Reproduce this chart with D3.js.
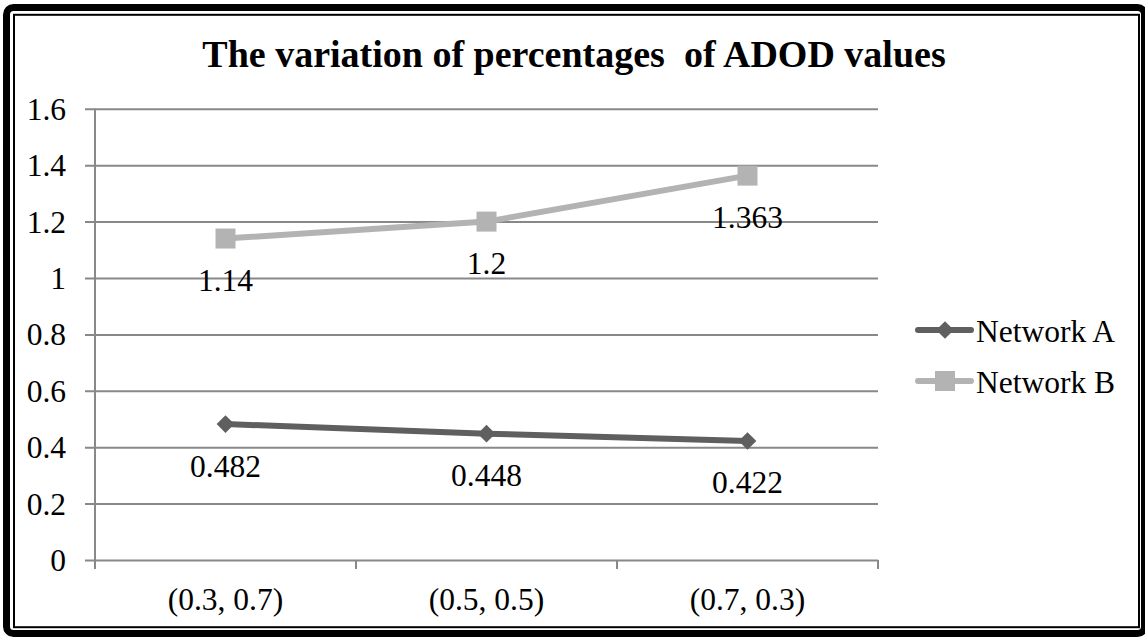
<!DOCTYPE html>
<html>
<head>
<meta charset="utf-8">
<script src="https://cdn.jsdelivr.net/npm/d3@7"></script>
<style>
  html, body { margin: 0; padding: 0; background: #fff; }
  svg { display: block; }
  text { font-family: "Liberation Serif", "Times New Roman", serif; }
</style>
</head>
<body>
<svg id="chart" width="1145" height="637"></svg>
<script>
// Chart data
const title = "The variation of percentages  of ADOD values";
const categories = ["(0.3, 0.7)", "(0.5, 0.5)", "(0.7, 0.3)"];
const seriesNames = ["Network A", "Network B"];
const networkA = [0.482, 0.448, 0.422];
const networkB = [1.14, 1.2, 1.363];
const yTicks = [0, 0.2, 0.4, 0.6, 0.8, 1, 1.2, 1.4, 1.6];

const series = [
  { name: seriesNames[0], values: networkA, color: "#5f5f5f", symbol: d3.symbolDiamond2 },
  { name: seriesNames[1], values: networkB, color: "#b3b3b3", symbol: d3.symbolSquare }
];

const svg = d3.select("#chart");
const W = 1145, H = 637;
const fs = 31.5;

// Double frame
svg.append("rect").attr("x", 0).attr("y", 0).attr("width", W).attr("height", H).attr("fill", "#fff");
svg.append("rect")
  .attr("x", 6.5).attr("y", 7.5).attr("width", 1138).attr("height", 626)
  .attr("rx", 7).attr("fill", "none").attr("stroke", "#000").attr("stroke-width", 7);
svg.append("rect")
  .attr("x", 14).attr("y", 14.8).attr("width", 1125).attr("height", 612.4)
  .attr("fill", "none").attr("stroke", "#000").attr("stroke-width", 2);

// Title
svg.append("text")
  .attr("x", 574).attr("y", 67)
  .attr("text-anchor", "middle")
  .attr("font-size", 38).attr("font-weight", "bold")
  .style("white-space", "pre")
  .attr("xml:space", "preserve")
  .text(title);

// Scales
const plot = { left: 95, right: 878, top: 108.8, bottom: 560 };
const x = d3.scaleBand().domain(categories).range([plot.left, plot.right]);
const y = d3.scaleLinear().domain([0, 1.6]).range([plot.bottom, plot.top]);
const gridColor = "#888";

// Horizontal gridlines with left tick marks
svg.append("g")
  .attr("transform", `translate(${plot.left},0)`)
  .call(d3.axisLeft(y).tickValues(yTicks).tickSize(-(plot.right - plot.left)).tickFormat(""))
  .call(g => g.select(".domain").remove())
  .call(g => g.selectAll("line").attr("stroke", gridColor).attr("stroke-width", 2).attr("x1", -10));

// Y tick labels
svg.append("g").selectAll("text").data(yTicks).join("text")
  .attr("x", 66).attr("y", d => y(d)).attr("dy", "0.35em")
  .attr("text-anchor", "end").attr("font-size", fs).attr("fill", "#000")
  .text(d => d3.format("")(d));

// Vertical axis line
svg.append("line")
  .attr("x1", plot.left).attr("x2", plot.left)
  .attr("y1", plot.top).attr("y2", plot.bottom + 9)
  .attr("stroke", gridColor).attr("stroke-width", 2);

// X tick marks at category boundaries
const boundaries = categories.map(c => x(c)).concat([plot.right]);
svg.append("g").selectAll("line").data(boundaries).join("line")
  .attr("x1", d => d).attr("x2", d => d)
  .attr("y1", plot.bottom).attr("y2", plot.bottom + 9)
  .attr("stroke", gridColor).attr("stroke-width", 2);

// X category labels
svg.append("g").selectAll("text").data(categories).join("text")
  .attr("x", d => x(d) + x.bandwidth() / 2).attr("y", 610)
  .attr("text-anchor", "middle").attr("font-size", fs)
  .text(d => d);

// Series lines, markers and value labels
const cx = i => x(categories[i]) + x.bandwidth() / 2;
const line = d3.line().x((d, i) => cx(i)).y(d => y(d));

series.forEach(s => {
  const g = svg.append("g");
  g.append("path").datum(s.values)
    .attr("d", line).attr("fill", "none")
    .attr("stroke", s.color).attr("stroke-width", 6).attr("stroke-linejoin", "round");
  g.selectAll("path.m").data(s.values).join("path").attr("class", "m")
    .attr("transform", (d, i) => `translate(${cx(i)},${y(d)})`)
    .attr("d", d3.symbol().type(s.symbol).size(s.symbol === d3.symbolSquare ? 400 : 200))
    .attr("fill", s.color);
  g.selectAll("text").data(s.values).join("text")
    .attr("x", (d, i) => cx(i)).attr("y", d => y(d) + 52.5)
    .attr("text-anchor", "middle").attr("font-size", fs)
    .text(d => d);
});

// Legend
const legY = [330, 381];
series.forEach((s, i) => {
  const g = svg.append("g").attr("transform", `translate(0,${legY[i]})`);
  g.append("line").attr("x1", 918).attr("x2", 971).attr("y1", 0).attr("y2", 0)
    .attr("stroke", s.color).attr("stroke-width", 6).attr("stroke-linecap", "round");
  g.append("path").attr("transform", "translate(945,0)")
    .attr("d", d3.symbol().type(s.symbol).size(s.symbol === d3.symbolSquare ? 400 : 200))
    .attr("fill", s.color);
  g.append("text").attr("x", 976).attr("y", 11.5).attr("font-size", fs).text(s.name);
});
</script>
</body>
</html>
